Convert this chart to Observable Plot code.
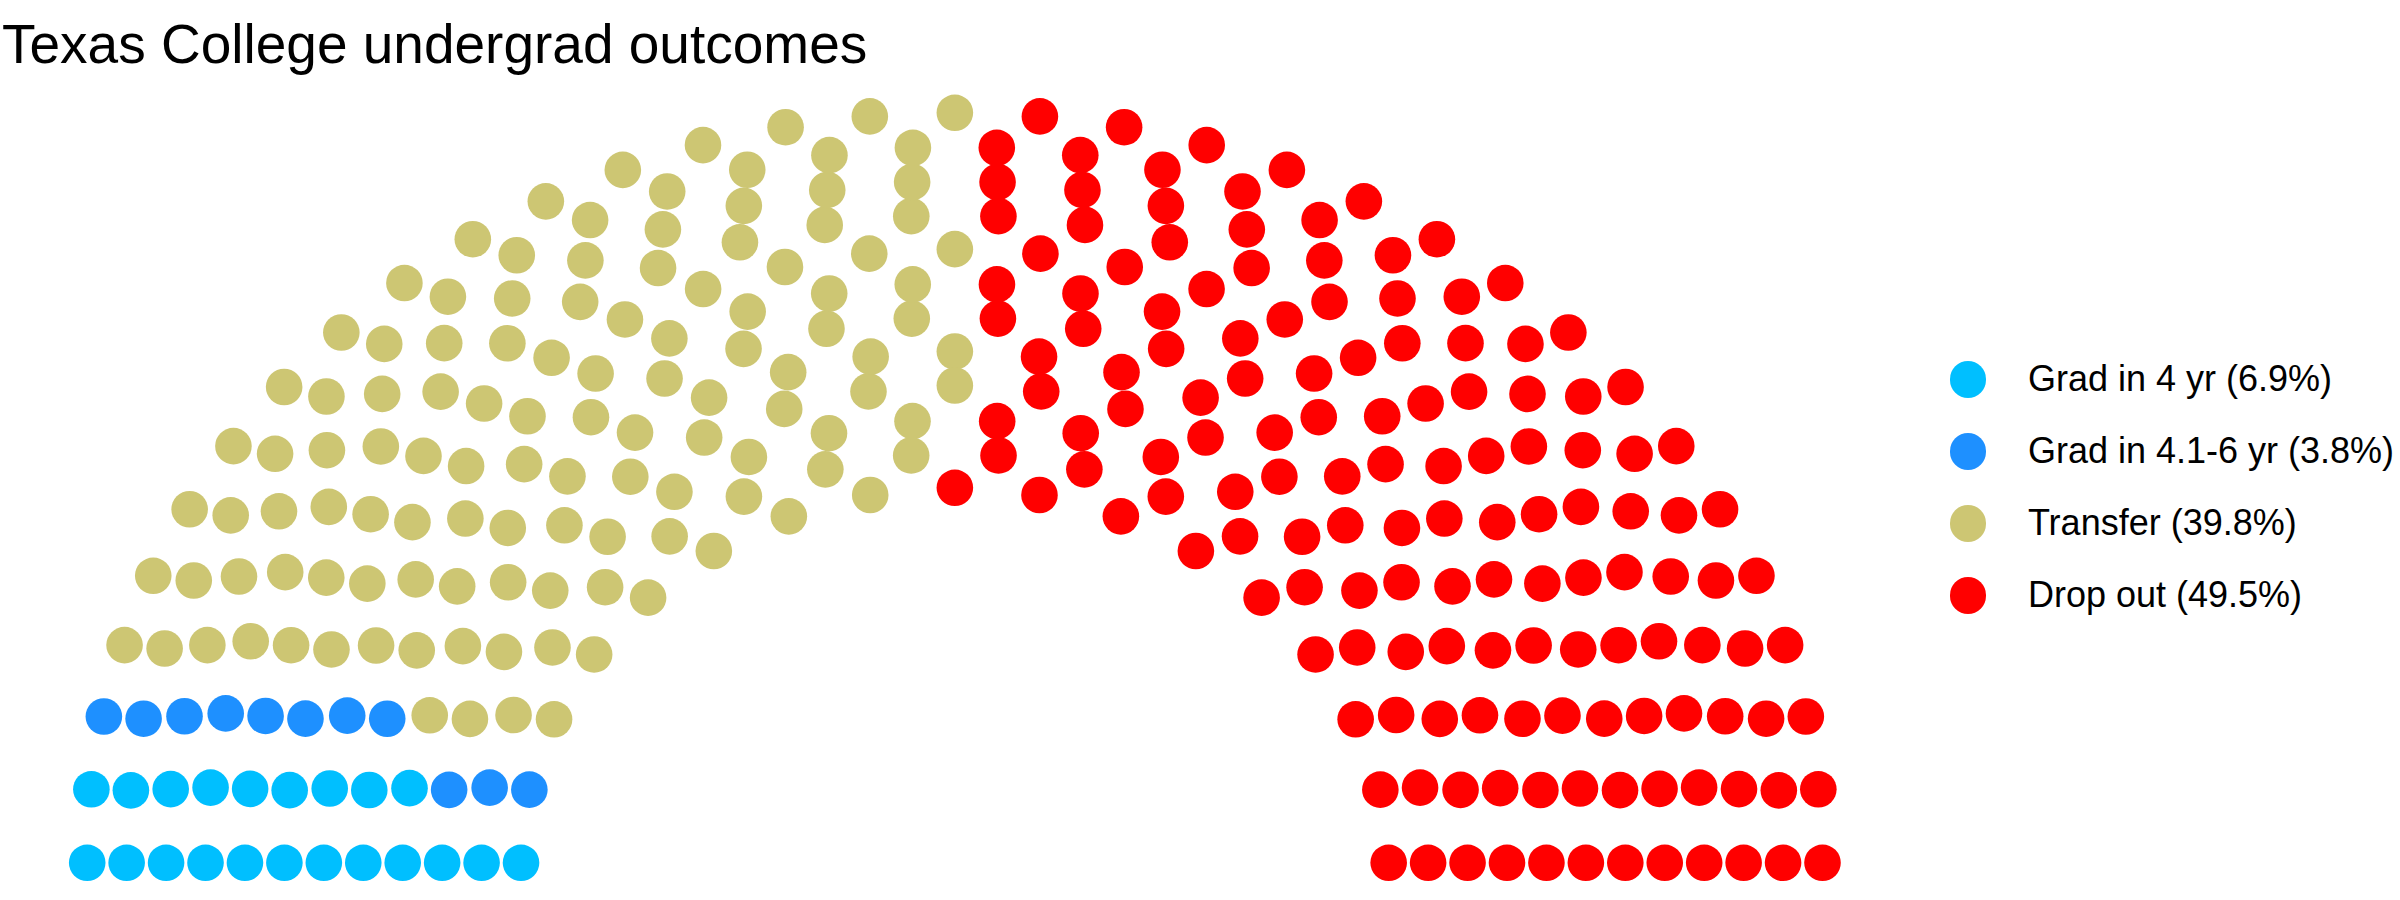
<!DOCTYPE html>
<html><head><meta charset="utf-8">
<script src="https://cdn.jsdelivr.net/npm/d3@7"></script>
<script src="https://cdn.jsdelivr.net/npm/@observablehq/plot@0.6"></script>
<style>
body{margin:0;background:#fff;font-family:"Liberation Sans",Arial,Helvetica,sans-serif;}
#wrap{position:relative;width:2400px;height:900px;overflow:hidden;background:#fff;}
#title{position:absolute;left:2px;top:16.7px;font-size:55px;line-height:55px;white-space:nowrap;color:#000;}
#chart{position:absolute;left:0;top:80px;}
#legend{position:absolute;left:1949.7px;top:343.3px;}
.item{display:flex;align-items:center;height:72px;font-size:36px;white-space:nowrap;color:#000;}
.sw{width:36.7px;height:36.7px;border-radius:50%;margin-right:41.6px;flex:none;}
</style></head><body>
<div id="wrap">
  <div id="title">Texas College undergrad outcomes</div>
  <div id="chart"></div>
  <div id="legend"></div>
</div>
<script>
// Data
const parties = ["Grad in 4 yr", "Grad in 4.1-6 yr", "Transfer", "Drop out"];
const seats = [21, 11, 119, 148];
const shares = ["6.9%", "3.8%", "39.8%", "49.5%"];
const colors = ["#00BFFF", "#1E90FF", "#CDC673", "#FF0000"];
const parlRows = 12;
const radiusLimits = [1, 2];

// R-style rounding (half to even)
function rround(v) {
  const f = Math.floor(v), d = v - f;
  if (Math.abs(d - 0.5) < 1e-9) return f % 2 === 0 ? f : f + 1;
  return Math.round(v);
}

// semicircle parliament layout (as in ggparliament)
function calcCoordinates(N, M, limits) {
  const radii = d3.range(M).map(i => limits[0] + i * (limits[1] - limits[0]) / (M - 1));
  let remaining = N;
  const pts = [];
  for (let i = 0; i < M; i++) {
    const c = rround(remaining * radii[i] / d3.sum(radii.slice(i)));
    for (let k = 0; k < c; k++) {
      const theta = k * Math.PI / (c - 1);
      pts.push({x: radii[i] * Math.cos(theta), y: radii[i] * Math.sin(theta), row: i + 1, theta});
    }
    remaining -= c;
  }
  pts.sort((a, b) => Math.abs(b.theta - a.theta) > 1e-9 ? b.theta - a.theta : b.row - a.row);
  return pts;
}

const layout = calcCoordinates(d3.sum(seats), parlRows, radiusLimits);
let idx = 0;
parties.forEach((p, j) => {
  for (let s = 0; s < seats[j]; s++) layout[idx++].party = p;
});

const chart = Plot.plot({
  width: 1930,
  height: 820,
  x: {domain: [-2, 2], range: [86.7, 1822], axis: null},
  y: {domain: [0, 2], range: [782.3, 32.3], axis: null},
  color: {domain: parties, range: colors},
  marks: [
    Plot.dot(layout, {x: "x", y: "y", fill: "party", r: 18.3})
  ]
});
document.getElementById("chart").appendChild(chart);

const legend = d3.select("#legend");
parties.forEach((p, j) => {
  const item = legend.append("div").attr("class", "item");
  item.append("span").attr("class", "sw").style("background", colors[j]);
  item.append("span").text(`${p} (${shares[j]})`);
});
</script>
</body></html>
